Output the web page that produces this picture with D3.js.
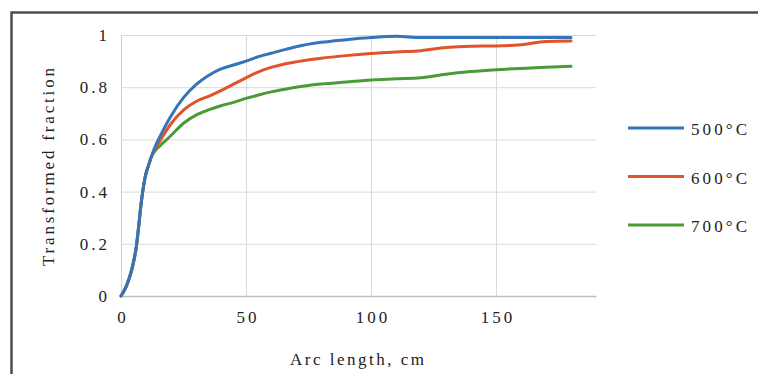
<!DOCTYPE html>
<html>
<head>
<meta charset="utf-8">
<script src="https://cdn.jsdelivr.net/npm/d3@7"></script>
<style>
  body { margin: 0; background: #fff; }
</style>
</head>
<body>
<div id="chart"></div>
<script>
// arc length (cm) sampled along the curves
var arcLength = [0, 2, 4, 5, 6, 7, 8, 9, 10, 11, 12, 14, 15, 20, 25, 30, 35, 40, 45, 50, 55, 60, 65, 70, 80, 90, 100, 110, 120, 130, 140, 150, 160, 170, 180];
var frac500 = [0, 0.035, 0.09, 0.13, 0.18, 0.26, 0.35, 0.42, 0.47, 0.5, 0.53, 0.58, 0.6, 0.69, 0.76, 0.81, 0.845, 0.87, 0.885, 0.9, 0.917, 0.93, 0.943, 0.955, 0.972, 0.982, 0.99, 0.995, 0.99, 0.99, 0.99, 0.99, 0.99, 0.99, 0.99];
var frac600 = [0, 0.035, 0.09, 0.13, 0.18, 0.26, 0.35, 0.42, 0.47, 0.5, 0.53, 0.57, 0.585, 0.66, 0.712, 0.745, 0.765, 0.787, 0.812, 0.836, 0.859, 0.876, 0.888, 0.897, 0.911, 0.921, 0.929, 0.935, 0.94, 0.952, 0.957, 0.958, 0.963, 0.975, 0.977];
var frac700 = [0, 0.035, 0.09, 0.13, 0.18, 0.26, 0.35, 0.42, 0.47, 0.5, 0.53, 0.56, 0.57, 0.615, 0.662, 0.693, 0.713, 0.729, 0.742, 0.757, 0.77, 0.782, 0.791, 0.8, 0.812, 0.82, 0.828, 0.832, 0.836, 0.85, 0.86, 0.867, 0.872, 0.876, 0.88];
var seriesNames = ["500°C", "600°C", "700°C"];
var seriesColors = ["#3474b8", "#e2532a", "#4a9a36"];
var xTicks = [0, 50, 100, 150];
var yTicks = [0, 0.2, 0.4, 0.6, 0.8, 1];

var FONT = "'Liberation Serif', Tinos, 'Times New Roman', 'DejaVu Serif', serif";
var W = 758, H = 374;
var margin = {top: 35, right: 162, bottom: 78, left: 121};
var width = W - margin.left - margin.right;
var height = H - margin.top - margin.bottom;

var svg = d3.select("#chart").append("svg")
  .attr("width", W)
  .attr("height", H)
  .attr("font-family", FONT);

// outer frame (only top and left edges visible)
svg.append("rect")
  .attr("x", 11.5)
  .attr("y", 12.5)
  .attr("width", W + 20)
  .attr("height", H + 20)
  .attr("fill", "none")
  .attr("stroke", "#4d4d4d")
  .attr("stroke-width", 2.5);

var g = svg.append("g")
  .attr("transform", "translate(" + margin.left + "," + margin.top + ")");

var x = d3.scaleLinear().domain([0, 190]).range([0, width]);
var y = d3.scaleLinear().domain([0, 1]).range([height, 0]);

// gridlines
g.append("g")
  .call(d3.axisLeft(y).tickValues(yTicks).tickSize(-width).tickFormat(""))
  .call(s => s.select(".domain").remove())
  .selectAll("line").attr("stroke", "#d9d9d9");
g.append("g")
  .attr("transform", "translate(0," + height + ")")
  .call(d3.axisBottom(x).tickValues(xTicks).tickSize(-height).tickFormat(""))
  .call(s => s.select(".domain").remove())
  .selectAll("line").attr("stroke", "#d9d9d9");

// axes
var yAxis = g.append("g")
  .call(d3.axisLeft(y).tickValues(yTicks).tickSize(0).tickPadding(11).tickFormat(d => String(d)))
  .attr("font-family", FONT);
yAxis.select(".domain").attr("stroke", "#d0d0d0");
yAxis.selectAll("text")
  .style("font-family", FONT)
  .attr("fill", "#222")
  .attr("font-size", "17px")
  .attr("letter-spacing", "3px");

var xAxis = g.append("g")
  .attr("transform", "translate(0," + height + ")")
  .call(d3.axisBottom(x).tickValues(xTicks).tickSize(0).tickPadding(15).tickFormat(d => String(d)))
  .attr("font-family", FONT);
xAxis.select(".domain").attr("stroke", "#bfbfbf").attr("stroke-width", 1.5);
xAxis.selectAll("text")
  .style("font-family", FONT)
  .attr("fill", "#222")
  .attr("font-size", "17px")
  .attr("letter-spacing", "3px")
  .attr("dx", "1.5px");

// axis titles
svg.append("text")
  .attr("transform", "translate(54," + 167 + ") rotate(-90)")
  .attr("text-anchor", "middle")
  .style("font-family", FONT)
  .attr("fill", "#222")
  .attr("font-size", "17px")
  .attr("textLength", 198)
  .attr("lengthAdjust", "spacing")
  .text("Transformed fraction");
svg.append("text")
  .attr("x", 357)
  .attr("y", 365)
  .attr("text-anchor", "middle")
  .style("font-family", FONT)
  .attr("fill", "#222")
  .attr("font-size", "17px")
  .attr("textLength", 134)
  .attr("lengthAdjust", "spacing")
  .text("Arc length, cm");

// curves
var allSeries = [frac500, frac600, frac700];
var line = d3.line()
  .x(d => x(d[0]))
  .y(d => y(d[1]))
  .curve(d3.curveMonotoneX);
// draw 700 first so blue sits on top like the original
for (var i = allSeries.length - 1; i >= 0; i--) {
  var pts = arcLength.map((a, j) => [a, allSeries[i][j]]);
  g.append("path")
    .datum(pts)
    .attr("d", line)
    .attr("fill", "none")
    .attr("stroke", seriesColors[i])
    .attr("stroke-width", 3)
    .attr("stroke-linecap", "round")
    .attr("stroke-linejoin", "round");
}

// legend
var legend = svg.append("g").attr("transform", "translate(628,128)");
seriesNames.forEach(function(name, i) {
  var row = legend.append("g").attr("transform", "translate(0," + (i * 48.5) + ")");
  row.append("line")
    .attr("x1", 0).attr("x2", 56)
    .attr("stroke", seriesColors[i])
    .attr("stroke-width", 3);
  row.append("text")
    .attr("x", 63)
    .attr("y", 7)
    .style("font-family", FONT)
    .attr("fill", "#222")
    .attr("font-size", "17px")
    .attr("textLength", 56)
    .attr("lengthAdjust", "spacing")
    .text(name);
});
</script>
</body>
</html>
